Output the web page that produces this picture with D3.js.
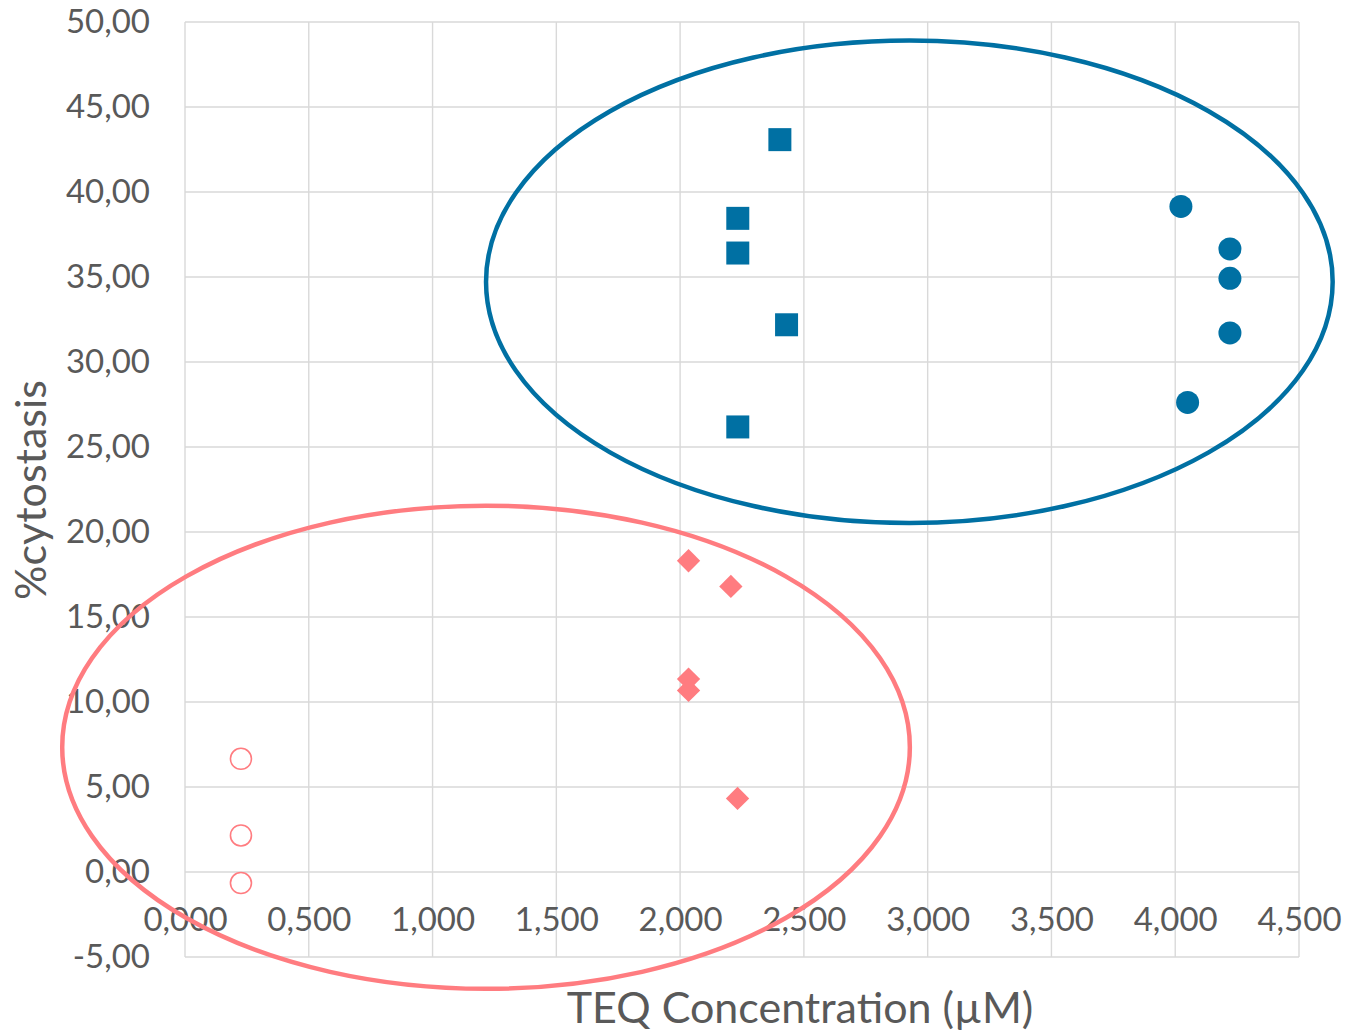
<!DOCTYPE html>
<html>
<head>
<meta charset="utf-8">
<script src="https://cdn.jsdelivr.net/npm/d3@7"></script>
<style>
  html, body { margin: 0; padding: 0; background: #ffffff; }
  svg { display: block; }
  text { font-family: Lato, "Open Sans", sans-serif; fill: #595959; }
</style>
</head>
<body>
<svg id="chart" width="1346" height="1032"></svg>
<script>
// ---- Data ----
const squaresX = [2.403, 2.233, 2.233, 2.430, 2.233];
const squaresY = [43.08, 38.45, 36.41, 32.19, 26.18];

const circlesX = [4.023, 4.221, 4.221, 4.221, 4.050];
const circlesY = [39.15, 36.65, 34.92, 31.71, 27.62];

const diamondsX = [2.034, 2.205, 2.034, 2.034, 2.232];
const diamondsY = [18.31, 16.80, 11.35, 10.68, 4.33];

const openCirclesX = [0.226, 0.226, 0.226];
const openCirclesY = [6.66, 2.15, -0.65];

// grouping ellipses (data units): centre x, centre y, radius x, radius y
const ellipseCX = [2.926, 1.216];
const ellipseCY = [34.72, 7.34];
const ellipseRX = [1.710, 1.712];
const ellipseRY = [14.19, 14.21];

const xTicks = [0, 0.5, 1, 1.5, 2, 2.5, 3, 3.5, 4, 4.5];
const yTicks = [-5, 0, 5, 10, 15, 20, 25, 30, 35, 40, 45, 50];
const xTitle = "TEQ Concentration (µM)";
const yTitle = "%cytostasis";

// ---- Chart ----
(function () {
const blue = "#0070A3";
const red = "#FF7C80";
const svg = d3.select("#chart");
const pLeft = 185, pRight = 1299, pTop = 22, pBottom = 957;

const x = d3.scaleLinear().domain([0, 4.5]).range([pLeft, pRight]);
const y = d3.scaleLinear().domain([-5, 50]).range([pBottom, pTop]);

const loc = d3.formatLocale({ decimal: ",", thousands: ".", grouping: [3], currency: ["", ""], minus: "-" });
const fmtX = loc.format(".3f");
const fmtY = loc.format(".2f");

// gridlines
svg.append("g").selectAll("line").data(xTicks).join("line")
  .attr("x1", d => x(d)).attr("x2", d => x(d))
  .attr("y1", pTop).attr("y2", pBottom)
  .attr("stroke", "#d9d9d9").attr("stroke-width", 1.4);
svg.append("g").selectAll("line").data(yTicks).join("line")
  .attr("x1", pLeft).attr("x2", pRight)
  .attr("y1", d => y(d)).attr("y2", d => y(d))
  .attr("stroke", "#d9d9d9").attr("stroke-width", 1.4);

// y axis labels
const yAxis = d3.axisLeft(y).tickValues(yTicks).tickFormat(fmtY).tickSize(0).tickPadding(35);
const gy = svg.append("g").attr("transform", `translate(${pLeft},0)`).call(yAxis);
gy.select(".domain").remove();
gy.selectAll("text").style("font-size", "33px").attr("fill", "#595959")
  .style("font-family", "Lato, 'Open Sans', sans-serif");

// x axis labels (axis crosses at y = 0)
const xAxis = d3.axisBottom(x).tickValues(xTicks).tickFormat(fmtX).tickSize(0).tickPadding(36);
const gx = svg.append("g").attr("transform", `translate(0,${y(0)})`).call(xAxis);
gx.select(".domain").remove();
gx.selectAll("text").style("font-size", "33px").attr("fill", "#595959")
  .style("font-family", "Lato, 'Open Sans', sans-serif");

// ellipses
const ellipseIdx = d3.range(ellipseCX.length);
const ellipseColors = [blue, red];
svg.append("g").selectAll("ellipse").data(ellipseIdx).join("ellipse")
  .attr("cx", i => x(ellipseCX[i]))
  .attr("cy", i => y(ellipseCY[i]))
  .attr("rx", i => x(ellipseCX[i] + ellipseRX[i]) - x(ellipseCX[i]))
  .attr("ry", i => y(ellipseCY[i]) - y(ellipseCY[i] + ellipseRY[i]))
  .attr("fill", "none")
  .attr("stroke", i => ellipseColors[i])
  .attr("stroke-width", 4.5);

// markers
const sq = d3.symbol().type(d3.symbolSquare).size(23 * 23);
svg.append("g").selectAll("path").data(d3.range(squaresX.length)).join("path")
  .attr("d", sq)
  .attr("transform", i => `translate(${x(squaresX[i])},${y(squaresY[i])})`)
  .attr("fill", blue);

svg.append("g").selectAll("circle").data(d3.range(circlesX.length)).join("circle")
  .attr("cx", i => x(circlesX[i])).attr("cy", i => y(circlesY[i]))
  .attr("r", 11.5).attr("fill", blue);

const dm = d3.symbol().type(d3.symbolSquare).size(16.5 * 16.5);
svg.append("g").selectAll("path").data(d3.range(diamondsX.length)).join("path")
  .attr("d", dm)
  .attr("transform", i => `translate(${x(diamondsX[i])},${y(diamondsY[i])}) rotate(45)`)
  .attr("fill", red);

svg.append("g").selectAll("circle").data(d3.range(openCirclesX.length)).join("circle")
  .attr("cx", i => x(openCirclesX[i])).attr("cy", i => y(openCirclesY[i]))
  .attr("r", 10.5).attr("fill", "none").attr("stroke", red).attr("stroke-width", 1.6);

// titles
svg.append("text")
  .attr("x", 800).attr("y", 1023)
  .attr("text-anchor", "middle")
  .style("font-size", "43px")
  .text(xTitle);

svg.append("text")
  .attr("transform", "translate(46,490) rotate(-90)")
  .attr("text-anchor", "middle")
  .style("font-size", "43px")
  .text(yTitle);
})();
</script>
</body>
</html>
